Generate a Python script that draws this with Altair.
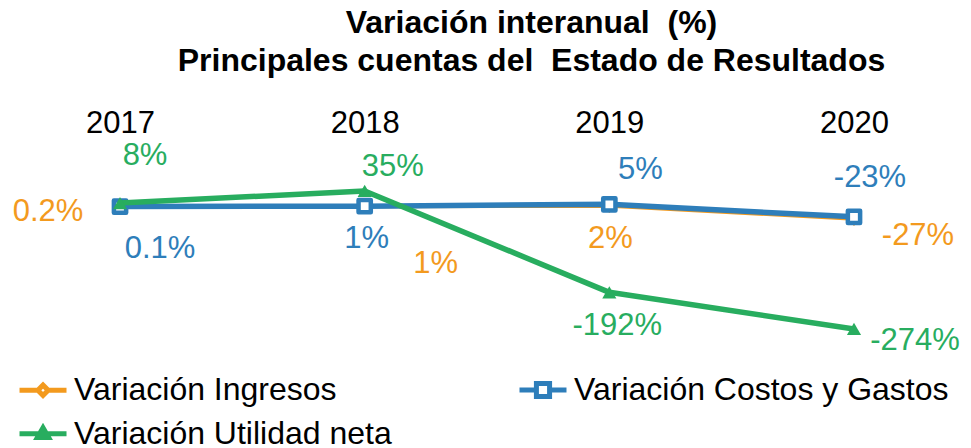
import altair as alt
import pandas as pd

# ---------------- data ----------------
years = [2017, 2018, 2019, 2020]
series = ["Variación Ingresos", "Variación Costos y Gastos", "Variación Utilidad neta"]
ingresos = [0.2, 1, 2, -27]
costos = [0.1, 1, 5, -23]
utilidad = [8, 35, -192, -274]
ingresos_lbl = ["0.2%", "1%", "2%", "-27%"]
costos_lbl = ["0.1%", "1%", "5%", "-23%"]
utilidad_lbl = ["8%", "35%", "-192%", "-274%"]

colors = ["#F39A1E", "#2E7EBA", "#28AD5F"]
values = [ingresos, costos, utilidad]
labels = [ingresos_lbl, costos_lbl, utilidad_lbl]

rows = []
for s, vals, lbls in zip(series, values, labels):
    for yr, v, l in zip(years, vals, lbls):
        rows.append({"serie": s, "anio": yr, "valor": v, "etiqueta": l})
df = pd.DataFrame(rows)

# ---------------- layout / style ----------------
FONT = "Liberation Sans"
K = 138 / 309
W = 955
H = 360 * K
x_scale = alt.Scale(domain=[2016.5422, 2020.4455], nice=False, zero=False)
y_scale = alt.Scale(domain=[-300, 60], nice=False, zero=False)
color_scale = alt.Scale(domain=series, range=colors)

label_offsets = [
    [(-72, 6), (71, 58), (1, 33), (64, 17)],
    [(40, 42), (2, 33), (31, -34), (16, -39)],
    [(25, -47), (28, -24), (8, 34), (61, 12)],
]
line_widths = [4, 5.5, 5.5]

x_axis = alt.Axis(orient="top", values=years, format="d", labelFontSize=31,
                  labelFont=FONT, labelColor="black", domain=False, ticks=False,
                  grid=False, title=None, labelPadding=40, labelFlush=False)
xenc = alt.X("anio:Q", scale=x_scale, axis=x_axis)
yenc = alt.Y("valor:Q", scale=y_scale, axis=None)

base = alt.Chart(df)
layers = []
for i, s in enumerate(series):
    sub = base.transform_filter(alt.datum.serie == s)
    layers.append(sub.mark_line(strokeWidth=line_widths[i], strokeJoin="round",
                                color=colors[i]).encode(x=xenc, y=yenc))
    if i == 0:
        pts = sub.mark_point(shape="diamond", size=110, filled=False, fill="white",
                             stroke=colors[i], strokeWidth=3, opacity=1)
    elif i == 1:
        pts = sub.mark_point(shape="square", size=150, filled=False, fill="white",
                             stroke=colors[i], strokeWidth=4.5, opacity=1, strokeJoin="round")
    else:
        pts = sub.mark_point(shape="triangle-up", size=200, filled=True,
                             fill=colors[i], opacity=1)
    layers.append(pts.encode(x=xenc, y=yenc))

for i, s in enumerate(series):
    for j, yr in enumerate(years):
        dx, dy = label_offsets[i][j]
        layers.append(
            base.transform_filter((alt.datum.serie == s) & (alt.datum.anio == yr))
            .mark_text(fontSize=31, font=FONT, align="center", baseline="middle",
                       dx=dx, dy=dy, color=colors[i])
            .encode(x=xenc, y=yenc, text="etiqueta:N")
        )

legend_paths = [
    "M-1,0H-0.22M0.22,0H1M0,-0.22L0.22,0L0,0.22L-0.22,0Z",
    "M-1,0H-0.28M0.28,0H1M-0.28,-0.28H0.28V0.28H-0.28Z",
    "M-1,0H1M0,-0.26L0.24,0.16L-0.24,0.16Z",
]
leg = alt.Legend(title=None, orient="none", legendX=9, legendY=184, columns=2,
                 direction="horizontal",
                 columnPadding=117, rowPadding=1, labelFontSize=32, labelFont=FONT,
                 labelColor="black", symbolSize=2209, symbolStrokeWidth=5,
                 labelOffset=5, padding=0, labelLimit=600)
legend_layer = base.transform_filter(alt.datum.valor > 100000).mark_point(
    filled=False, fill="white", strokeWidth=5, opacity=1).encode(
    x=xenc, y=yenc,
    color=alt.Color("serie:N", scale=color_scale, legend=leg),
    shape=alt.Shape("serie:N", scale=alt.Scale(domain=series, range=legend_paths), legend=leg),
)
layers.append(legend_layer)

chart = alt.layer(*layers).properties(
    width=W, height=H,
    autosize=alt.AutoSizeParams(type="none"),
    padding={"left": 0, "top": 171.8, "right": 0, "bottom": 110},
    title=alt.TitleParams(
        text=["Variación interanual \u00a0(%)", "Principales cuentas del \u00a0Estado de Resultados"],
        fontSize=32, fontWeight="bold", font=FONT, color="black",
        anchor="middle", dx=46, lineHeight=38, offset=30,
    ),
).configure_view(stroke=None)

chart.save("out.html", embed_options={"renderer": "svg", "actions": False})
